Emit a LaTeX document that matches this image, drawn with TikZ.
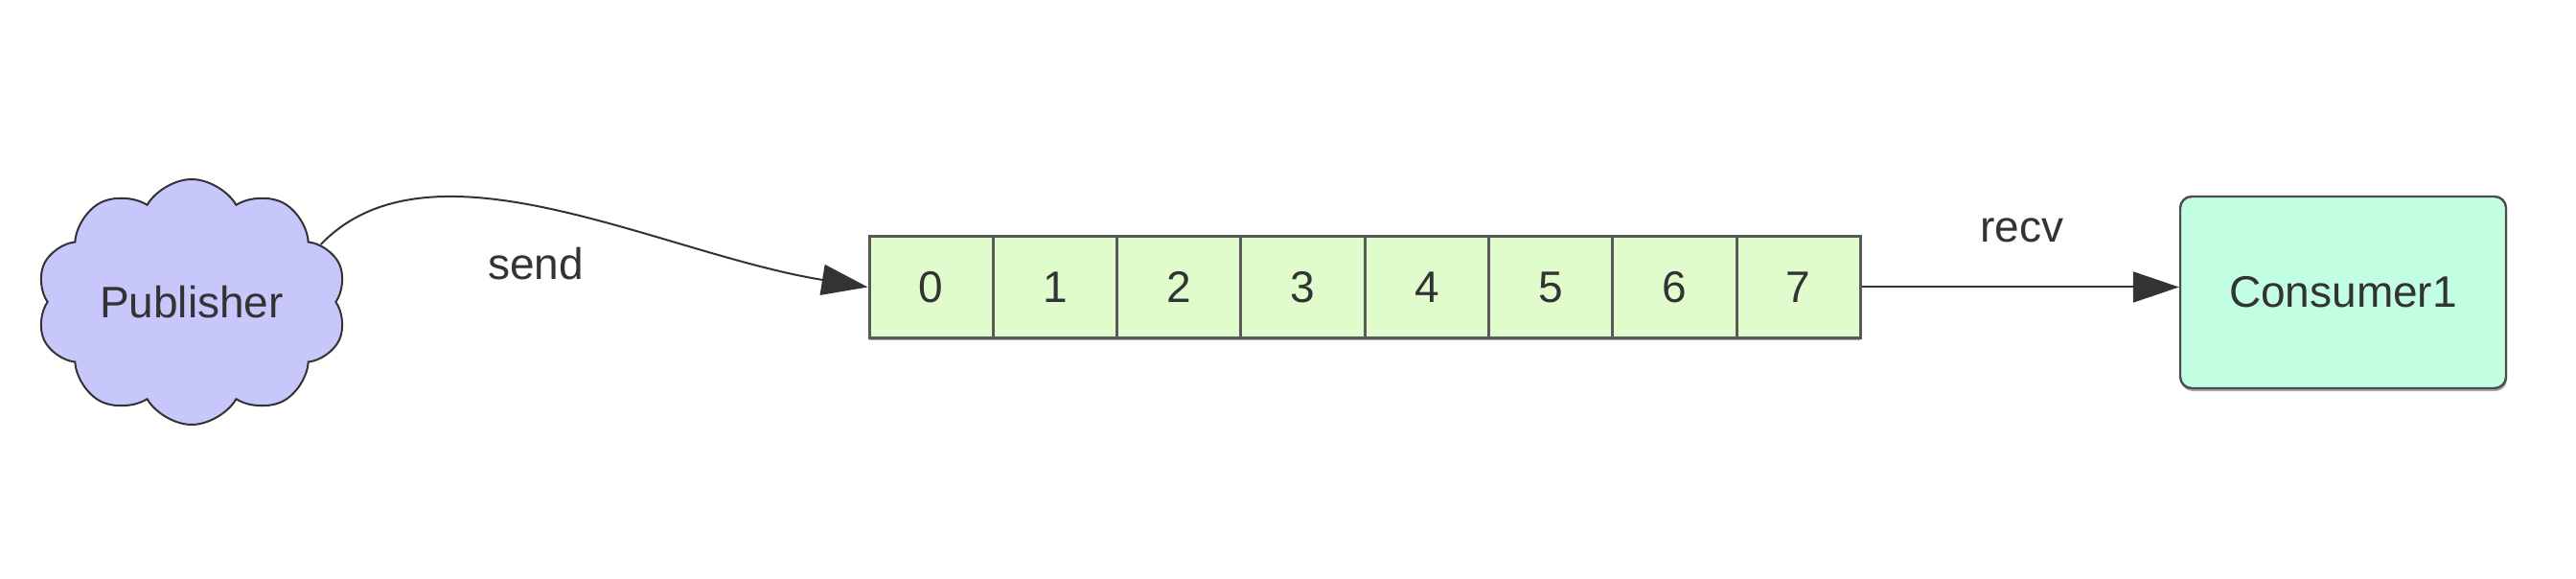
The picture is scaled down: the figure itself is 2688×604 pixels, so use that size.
\documentclass[tikz,border=0pt]{standalone}
\usepackage{fontspec}
\setmainfont{Liberation Sans}
\usepackage{xcolor}
\usepackage{tikz}
\usetikzlibrary{shapes,arrows}
\usetikzlibrary{arrows.meta}
\usetikzlibrary{shapes.symbols}
\usetikzlibrary{shadows}

\definecolor{pubblue}{RGB}{199,199,252}
\definecolor{slotgreen}{RGB}{224,252,204}
\definecolor{consmint}{RGB}{194,254,226}
\definecolor{inkgray}{RGB}{51,51,51}

\begin{document}
\begin{tikzpicture}[x=0.5pt, y=-0.5pt, font=\fontsize{23}{27}\selectfont, text=inkgray]
\tikzstyle{pubcloud}=[cloud, cloud puffs=10, cloud puff arc=120, aspect=1.28, draw=inkgray, line width=1pt, fill=pubblue, minimum width=162pt, minimum height=128pt, inner sep=0pt]
\tikzstyle{slot}=[rectangle, draw=black!65, line width=1.5pt, fill=slotgreen, minimum width=64.65pt, minimum height=52.5pt, inner sep=0pt, drop shadow={shadow xshift=0pt, shadow yshift=-1.5pt, fill=black, opacity=0.35}]
\tikzstyle{consumer}=[rectangle, rounded corners=6pt, draw=black!70, line width=1.2pt, fill=consmint, minimum width=170pt, minimum height=100pt, drop shadow={shadow xshift=0.5pt, shadow yshift=-1.5pt, fill=black, opacity=0.35}]
\tikzstyle{link}=[draw=inkgray, line width=1pt, -{Triangle[length=24pt, width=16pt]}]
\tikzstyle{lbl}=[anchor=base, inner sep=0pt]

\useasboundingbox (0,0) rectangle (2688,604);

% Publisher, queue and consumer
\node[pubcloud] (pub) at (200,315) {Publisher};

\foreach \i in {0,...,7}
  \node[slot] (cell\i) at ({971.65+129.3*\i},299.5) {\i};

\node[consumer] (con) at (2445,305) {Consumer1};

% Messages
\path[link] (pub.24) .. controls (450,135) and (690,265) .. (cell0.west);
\node[lbl] (sendlbl) at (559,292) {send};

\path[link] (cell7.east) -- (cell7.east -| con.west);
\node[lbl] (recvlbl) at (2110,253) {recv};
\end{tikzpicture}
\end{document}
